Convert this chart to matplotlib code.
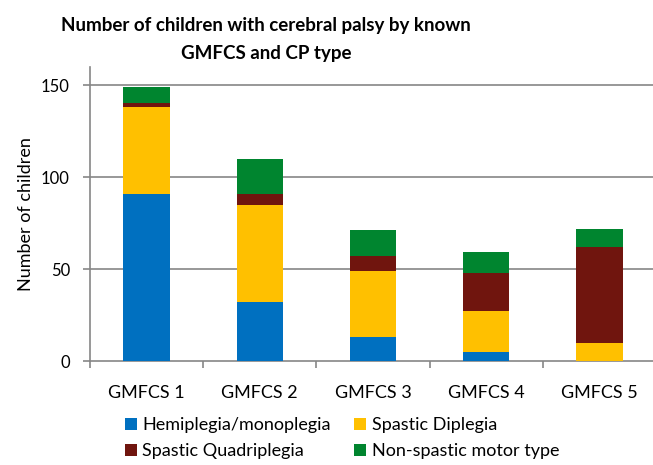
import matplotlib
matplotlib.use("Agg")
import matplotlib.pyplot as plt
import numpy as np

categories = ["GMFCS 1", "GMFCS 2", "GMFCS 3", "GMFCS 4", "GMFCS 5"]
series_names = ["Hemiplegia/monoplegia", "Spastic Diplegia", "Spastic Quadriplegia", "Non-spastic motor type"]
hemiplegia = [91, 32, 13, 5, 0]
diplegia = [47, 53, 36, 22, 10]
quadriplegia = [2, 6, 8, 21, 52]
nonspastic = [9, 19, 14, 11, 10]
colors = ["#0070C0", "#FFC000", "#70150E", "#00852F"]
yticks = [0, 50, 100, 150]

plt.rcParams['font.family'] = ['Lato', 'DejaVu Sans']

W, H = 653, 465
fig = plt.figure(figsize=(W/100, H/100), dpi=100)
ax = fig.add_axes([90/W, (H-361)/H, (656-90)/W, (361-66.6)/H])

x = np.arange(len(categories))
bottom = np.zeros(len(categories))
handles = []
for vals, c, name in zip([hemiplegia, diplegia, quadriplegia, nonspastic], colors, series_names):
    b = ax.bar(x, vals, width=0.41, bottom=bottom, color=c, label=name, zorder=3)
    handles.append(b)
    bottom += np.array(vals)

gray = "#868686"
ax.set_xlim(-0.5, len(categories) - 0.5)
ax.set_ylim(0, 160)
ax.set_yticks(yticks)
ax.set_yticklabels([str(t) for t in yticks], fontsize=12)
ax.set_xticks(x)
ax.set_xticklabels(categories, fontsize=13)
ax.tick_params(axis='x', which='major', length=0, pad=17)
ax.tick_params(axis='y', length=5, color=gray, width=1.2, pad=9.5)
ax.set_xticks(np.arange(-0.5, len(categories), 1.0), minor=True)
ax.tick_params(axis='x', which='minor', length=5, color=gray, width=1.2, direction='out')
for gy in [50, 100, 150]:
    ax.axhline(gy, color=gray, lw=1.2, zorder=1)
for s in ["top", "right"]:
    ax.spines[s].set_visible(False)
for s in ["left", "bottom"]:
    ax.spines[s].set_color(gray)
    ax.spines[s].set_linewidth(1.2)
ax.set_ylabel("Number of children", fontsize=13)
ax.yaxis.set_label_coords(-0.099, 0.5)

fig.text(266/W, 1 - 17/H, "Number of children with cerebral palsy by known\nGMFCS and CP type",
         ha="center", va="top", fontsize=13.5, fontweight="bold", linespacing=1.75)

order = [0, 2, 1, 3]
leg = fig.legend(handles=[handles[i] for i in order], labels=[series_names[i] for i in order],
                 ncol=2, loc="upper left",
                 bbox_to_anchor=(118/W, 1 - 410/H), frameon=False, fontsize=13,
                 handlelength=0.65, handleheight=0.65, handletextpad=0.3,
                 columnspacing=1.3, labelspacing=0.55, borderaxespad=0)

fig.savefig("out.png", dpi=100)
